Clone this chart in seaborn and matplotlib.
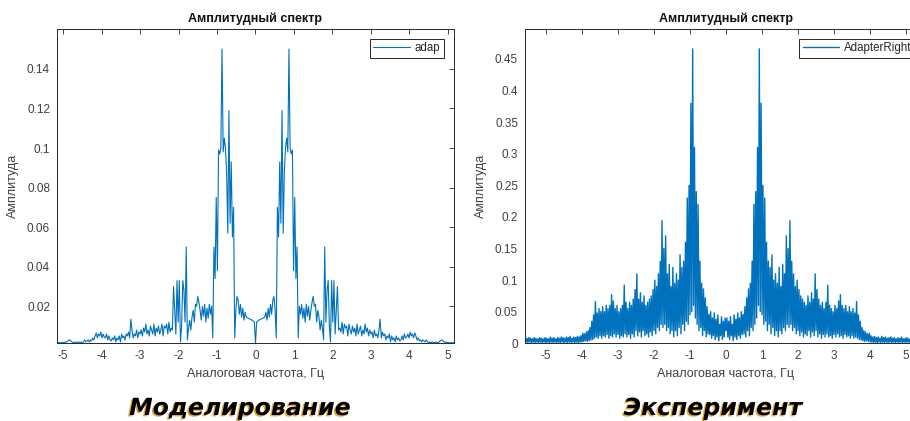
import numpy as np
import matplotlib
matplotlib.use("Agg")
import matplotlib.pyplot as plt
import matplotlib.patheffects as pe
import seaborn as sns

# Simulated spectrum ("adap"), positive half, 0.03 Hz step from 0 to 5.16 Hz (spectrum is symmetric)
sim_step = 0.03
sim_amp = [
    0.0013, 0.012, 0.0125, 0.013, 0.0133, 0.0136, 0.0139, 0.0142, 0.0145, 0.017,      # 0.00-0.27
    0.013, 0.019, 0.0145, 0.021, 0.016, 0.023, 0.025, 0.018, 0.004, 0.070,           # 0.30-0.57
    0.055, 0.093, 0.062, 0.119, 0.057, 0.088, 0.100, 0.105, 0.098, 0.150,            # 0.60-0.87
    0.100, 0.097, 0.099, 0.038, 0.075, 0.034, 0.050, 0.004, 0.020, 0.016,            # 0.90-1.17
    0.021, 0.014, 0.019, 0.012, 0.021, 0.015, 0.020, 0.013, 0.018, 0.022,            # 1.20-1.47
    0.025, 0.020, 0.021, 0.012, 0.018, 0.0146, 0.008, 0.013, 0.009, 0.003,           # 1.50-1.77
    0.050, 0.012, 0.028, 0.033, 0.010, 0.002, 0.033, 0.012, 0.033, 0.006,            # 1.80-2.07
    0.018, 0.030, 0.008, 0.009, 0.007, 0.012, 0.006, 0.011, 0.009, 0.010,            # 2.10-2.37
    0.005, 0.011, 0.008, 0.006, 0.010, 0.007, 0.009, 0.005, 0.011, 0.006,            # 2.40-2.67
    0.008, 0.010, 0.005, 0.008, 0.006, 0.011, 0.007, 0.009, 0.005, 0.008,            # 2.70-2.97
    0.006, 0.007, 0.004, 0.008, 0.005, 0.006, 0.004, 0.008, 0.0135, 0.004,           # 3.00-3.27
    0.007, 0.005, 0.006, 0.003, 0.005, 0.004, 0.006, 0.002, 0.005, 0.003,            # 3.30-3.57
    0.004, 0.002, 0.005, 0.003, 0.004, 0.0025, 0.003, 0.005, 0.003, 0.006,           # 3.60-3.87
    0.004, 0.0045, 0.006, 0.004, 0.007, 0.005, 0.006, 0.004, 0.0065, 0.005,         # 3.90-4.17
    0.003, 0.004, 0.0025, 0.003, 0.002, 0.003, 0.0025, 0.002, 0.003, 0.002,          # 4.20-4.47
    0.0015, 0.002, 0.0015, 0.002, 0.0018, 0.0015, 0.002, 0.0017, 0.0015, 0.002,      # 4.50-4.77
    0.0025, 0.003, 0.0028, 0.0022, 0.0018, 0.002, 0.0015, 0.0018, 0.0016, 0.0015,    # 4.80-5.07
    0.0017, 0.0015, 0.0016,                                                          # 5.10-5.16
]

# Experimental spectrum ("AdapterRight"), positive half: lower / upper envelope
# of the dense trace in 0.05 Hz bins starting at 0 Hz (spectrum is symmetric)
exp_step = 0.025
exp_low = [
    0.020, 0.010, 0.006, 0.012, 0.004, 0.010, 0.006, 0.012, 0.008, 0.014,
    0.015, 0.010, 0.020, 0.012, 0.025, 0.020, 0.030, 0.040, 0.060, 0.050,
    0.045, 0.030, 0.035, 0.020, 0.030, 0.015, 0.025, 0.012, 0.020, 0.010,
    0.020, 0.015, 0.025, 0.020, 0.030, 0.025, 0.030, 0.020, 0.025, 0.015,
    0.020, 0.012, 0.018, 0.010, 0.015, 0.012, 0.020, 0.010, 0.018, 0.012,
    0.020, 0.010, 0.015, 0.008, 0.014, 0.010, 0.015, 0.010, 0.012, 0.008,
    0.014, 0.010, 0.015, 0.010, 0.012, 0.008, 0.014, 0.010, 0.012, 0.008,
    0.012, 0.008, 0.010, 0.008, 0.006, 0.005, 0.004, 0.003, 0.004, 0.003,
    0.002, 0.002, 0.001, 0.002, 0.001, 0.002, 0.001, 0.002, 0.001, 0.002,
    0.001, 0.002, 0.001, 0.002, 0.001, 0.002, 0.001, 0.002, 0.001, 0.002,
    0.001, 0.002, 0.001, 0.002, 0.001, 0.002, 0.001, 0.002, 0.001, 0.002,
    0.001, 0.002,
]
exp_high = [
    0.040, 0.035, 0.042, 0.030, 0.045, 0.038, 0.048, 0.040, 0.050, 0.046,
    0.058, 0.072, 0.086, 0.095, 0.130, 0.220, 0.240, 0.310, 0.466, 0.380,
    0.250, 0.230, 0.160, 0.130, 0.120, 0.140, 0.100, 0.110, 0.095, 0.120,
    0.090, 0.125, 0.110, 0.170, 0.150, 0.194, 0.130, 0.110, 0.090, 0.100,
    0.085, 0.075, 0.070, 0.065, 0.060, 0.075, 0.065, 0.080, 0.070, 0.110,
    0.085, 0.070, 0.060, 0.065, 0.055, 0.065, 0.092, 0.060, 0.055, 0.050,
    0.060, 0.055, 0.067, 0.077, 0.060, 0.055, 0.060, 0.050, 0.058, 0.050,
    0.055, 0.048, 0.066, 0.045, 0.035, 0.025, 0.020, 0.018, 0.015, 0.016,
    0.012, 0.010, 0.011, 0.009, 0.010, 0.008, 0.011, 0.009, 0.010, 0.008,
    0.009, 0.010, 0.008, 0.009, 0.007, 0.009, 0.008, 0.010, 0.007, 0.008,
    0.009, 0.007, 0.008, 0.009, 0.007, 0.008, 0.009, 0.007, 0.008, 0.009,
    0.008, 0.009,
]

title_text = "Амплитудный спектр"
xlabel_text = "Аналоговая частота, Гц"
ylabel_text = "Амплитуда"
captions = ["Моделирование", "Эксперимент"]
legend_names = ["adap", "AdapterRight"]

sim_ticks_y = [0.02, 0.04, 0.06, 0.08, 0.10, 0.12, 0.14]
exp_ticks_y = [0, 0.05, 0.10, 0.15, 0.20, 0.25, 0.30, 0.35, 0.40, 0.45]
ticks_x = [-5, -4, -3, -2, -1, 0, 1, 2, 3, 4, 5]


def full_spectrum(amp, step):
    amp = np.asarray(amp)
    f = np.arange(len(amp)) * step
    return np.concatenate([-f[:0:-1], f]), np.concatenate([amp[:0:-1], amp])


sim_x, sim_y = full_spectrum(sim_amp, sim_step)
exp_x, exp_y = full_spectrum(np.column_stack([exp_low, exp_high]).ravel(), exp_step)

sns.set_style("white")
plt.rcParams["font.family"] = ["Liberation Sans", "DejaVu Sans"]

line_color = "#0072BD"
axis_color = "#262626"
label_color = "#404040"


def fmt(v):
    return ("%g" % round(v, 3))


def style_axes(ax, yticks, legend_anchor):
    ax.set_xticks(ticks_x)
    ax.set_xticklabels([fmt(t) for t in ticks_x])
    ax.set_yticks(yticks)
    ax.set_yticklabels([fmt(t) for t in yticks])
    ax.tick_params(direction="in", length=3.5, width=0.6, color=axis_color,
                   labelcolor=label_color, labelsize=8.5, top=True, right=True,
                   pad=5)
    for s in ax.spines.values():
        s.set_color(axis_color)
        s.set_linewidth(0.7)
    ax.set_title(title_text, fontsize=9, fontweight="bold", color="#111111", pad=5)
    ax.set_xlabel(xlabel_text, fontsize=9, color=label_color, labelpad=4)
    ax.set_ylabel(ylabel_text, fontsize=9, color=label_color, labelpad=6)
    leg = ax.legend(loc="upper right", fontsize=8.3, handlelength=3.2,
                    handletextpad=0.4, borderpad=0.3, borderaxespad=0,
                    bbox_to_anchor=legend_anchor, bbox_transform=fig.transFigure,
                    fancybox=False, framealpha=1)
    leg.get_frame().set_edgecolor(axis_color)
    leg.get_frame().set_linewidth(0.7)
    for t in leg.get_texts():
        t.set_color(axis_color)


fig = plt.figure(figsize=(9.1, 4.21), dpi=100)
ax1 = fig.add_axes([0.0626, 0.1846, 0.4363, 0.7458])
ax2 = fig.add_axes([0.5769, 0.1846, 0.4418, 0.7458])

sns.lineplot(x=sim_x, y=sim_y, ax=ax1, color=line_color, linewidth=0.8,
             estimator=None, sort=False, label=legend_names[0])
ax1.set_xlim(-5.16, 5.16)
ax1.set_ylim(0.0013, 0.16)
style_axes(ax1, sim_ticks_y, (444 / 910, 1 - 39 / 421))

sns.lineplot(x=exp_x, y=exp_y, ax=ax2, color=line_color, linewidth=1.0,
             estimator=None, sort=False, label=legend_names[1])
ax2.set_xlim(-5.58, 5.58)
ax2.set_ylim(0, 0.497)
style_axes(ax2, exp_ticks_y, (915 / 910, 1 - 39 / 421))

shadow = [pe.SimplePatchShadow(offset=(-1.2, -1.0), shadow_rgbFace="#e0a020", alpha=0.9),
          pe.Normal()]
for xc, txt in zip([240 / 910, 713 / 910], captions):
    fig.text(xc, 1 - 408 / 421, txt, ha="center", va="center", fontsize=17,
             fontweight="bold", fontstyle="italic", family="DejaVu Sans",
             color="black", path_effects=shadow)

fig.savefig("out.png", dpi=100)
